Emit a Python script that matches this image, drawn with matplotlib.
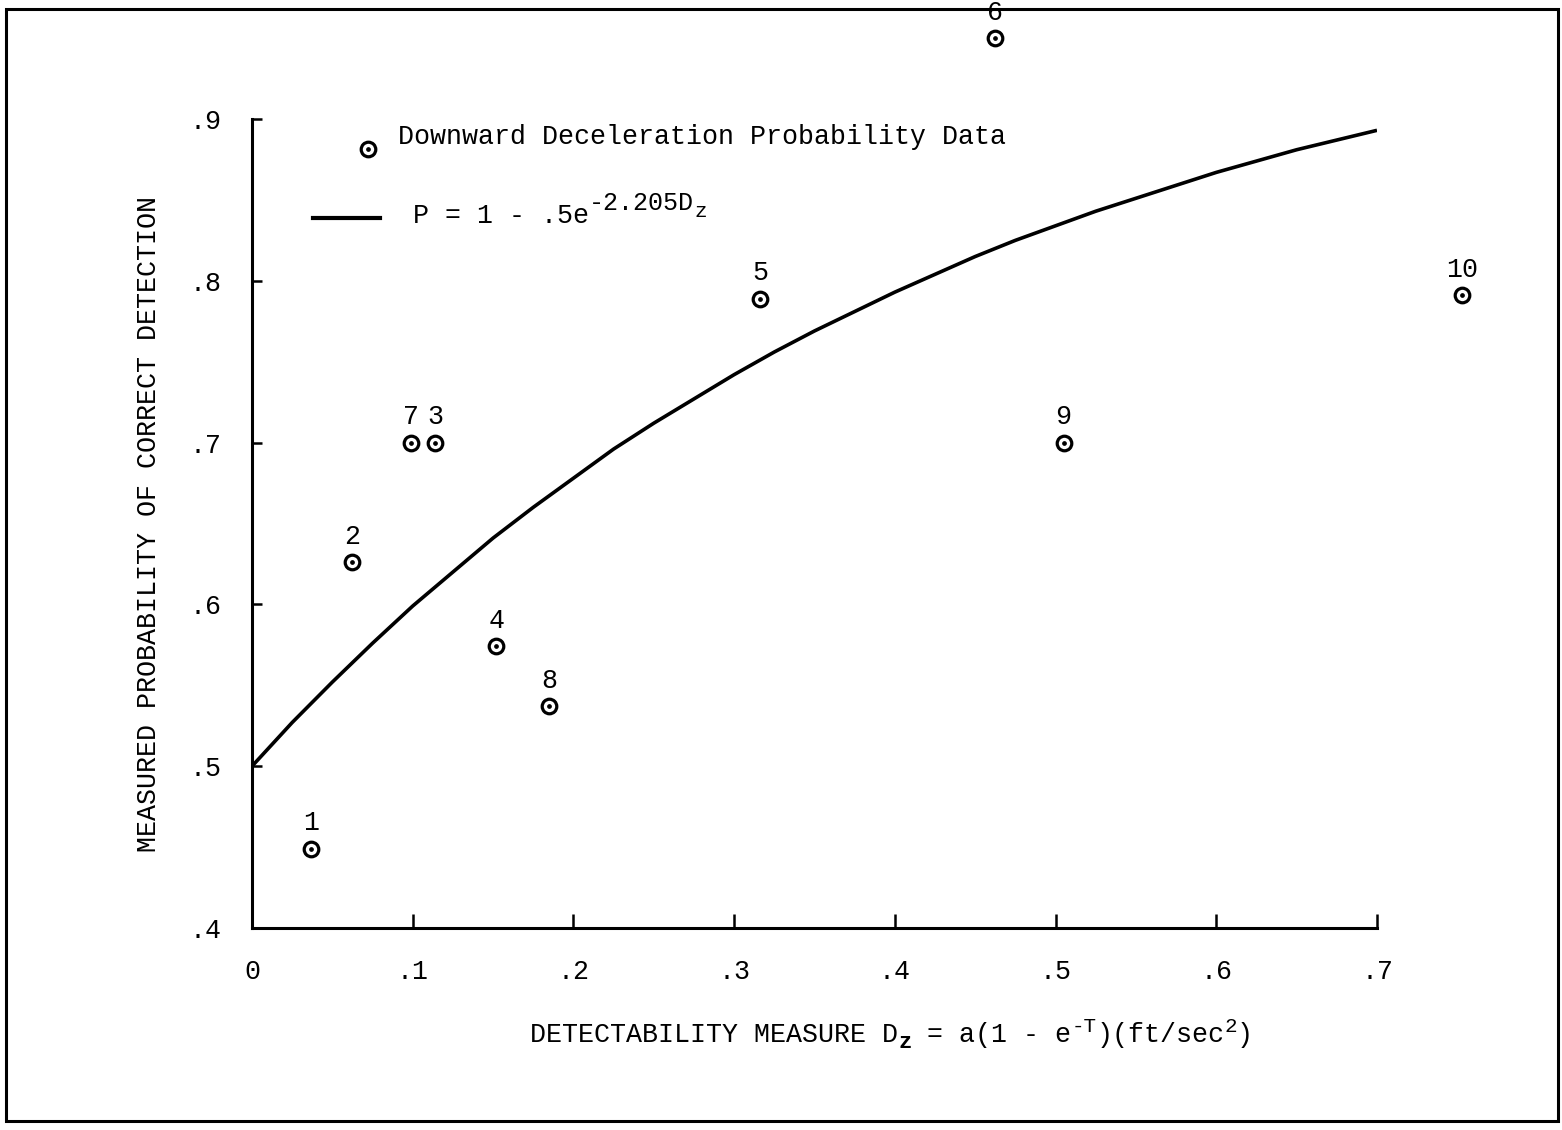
import numpy as np
import matplotlib
matplotlib.use('Agg')
import matplotlib.pyplot as plt
from matplotlib.lines import Line2D
from matplotlib.patches import Rectangle
from matplotlib.transforms import IdentityTransform

# measured points (numbered runs)
run_ids = ['1', '2', '7', '3', '4', '8', '5', '6', '9', '10']
dz = [0.037, 0.062, 0.099, 0.114, 0.152, 0.185, 0.316, 0.462, 0.505, 0.753]
p_meas = [0.449, 0.626, 0.700, 0.700, 0.574, 0.537, 0.789, 0.950, 0.700, 0.791]

# fitted curve P = 1 - .5exp(-2.205 Dz)
curve_x = [0.0, 0.025, 0.05, 0.075, 0.10, 0.125, 0.15, 0.175, 0.20, 0.225, 0.25, 0.275,
           0.30, 0.325, 0.35, 0.375, 0.40, 0.425, 0.45, 0.475, 0.50, 0.525, 0.55, 0.575,
           0.60, 0.625, 0.65, 0.675, 0.70]
curve_p = [0.500, 0.527, 0.552, 0.576, 0.599, 0.620, 0.641, 0.660, 0.678, 0.696, 0.712, 0.727,
           0.742, 0.756, 0.769, 0.781, 0.793, 0.804, 0.815, 0.825, 0.834, 0.843, 0.851, 0.859,
           0.867, 0.874, 0.881, 0.887, 0.893]

x_ticks = [0, 0.1, 0.2, 0.3, 0.4, 0.5, 0.6, 0.7]
x_labels = ['0', '.1', '.2', '.3', '.4', '.5', '.6', '.7']
y_ticks = [0.4, 0.5, 0.6, 0.7, 0.8, 0.9]
y_labels = ['.4', '.5', '.6', '.7', '.8', '.9']

plt.rcParams['font.family'] = ['Liberation Mono', 'DejaVu Sans Mono']

W, H = 1562, 1130
fig = plt.figure(figsize=(W / 100, H / 100), dpi=100)
ax = fig.add_axes([252 / W, 1 - 928 / H, 1125 / W, 809 / H])

fsz = 19.2
px = IdentityTransform()


def typed(x, y, parts):
    # lay out pieces of monospace text one after another (x, y in pixels from top-left,
    # dy > 0 raises the piece)
    for s, dy, size, weight in parts:
        fig.text(x, H - y + dy, s, fontsize=size, fontweight=weight, transform=px,
                 ha='left', va='baseline')
        x += len(s) * 0.6 * size * 100 / 72


ax.plot(curve_x, curve_p, color='black', lw=2.6, solid_capstyle='butt', zorder=3)

ax.plot(dz, p_meas, linestyle='none', marker='o', ms=10.5, mfc='white', mec='black',
        mew=2.3, clip_on=False, zorder=4)
ax.plot(dz, p_meas, linestyle='none', marker='o', ms=2.4, color='black', clip_on=False, zorder=5)

for lab, xv, yv in zip(run_ids, dz, p_meas):
    ax.annotate(lab, (xv, yv), xytext=(0, 9), textcoords='offset points',
                ha='center', va='bottom', fontsize=fsz, annotation_clip=False)

ax.set_xlim(0, 0.7)
ax.set_ylim(0.4, 0.9)
ax.spines['top'].set_visible(False)
ax.spines['right'].set_visible(False)
ax.spines['left'].set_linewidth(2.2)
ax.spines['bottom'].set_linewidth(2.2)

ax.set_xticks(x_ticks)
ax.set_xticklabels(x_labels, fontsize=fsz)
ax.set_yticks(y_ticks)
ax.set_yticklabels(y_labels, fontsize=fsz)
ax.tick_params(axis='x', direction='in', length=10, width=1.8, pad=22)
ax.tick_params(axis='y', direction='in', length=7, width=1.8, pad=22)

ax.set_ylabel('MEASURED PROBABILITY OF CORRECT DETECTION', fontsize=fsz, labelpad=20)

# x axis title with raised / lowered pieces
typed(530, 1042, [('DETECTABILITY MEASURE D', 0, fsz, 'normal'),
                  ('z', -6, 16, 'bold'),
                  (' = a(1 - e', 0, fsz, 'normal'),
                  ('-T', 10, 15, 'normal'),
                  (')(ft/sec', 0, fsz, 'normal'),
                  ('2', 10, 15, 'normal'),
                  (')', 0, fsz, 'normal')])

# hand-made legend
fig.add_artist(Line2D([368 / W], [1 - 149 / H], marker='o', ms=10.5, mfc='white',
                      mec='black', mew=2.3, transform=fig.transFigure))
fig.add_artist(Line2D([368 / W], [1 - 149 / H], marker='o', ms=2.4, color='black',
                      transform=fig.transFigure))
typed(398, 144, [('Downward Deceleration Probability Data', 0, fsz, 'normal')])
fig.add_artist(Line2D([313 / W, 380 / W], [1 - 218 / H, 1 - 218 / H],
                      color='black', lw=3, transform=fig.transFigure))
typed(413, 223, [('P = 1 - .5e', 0, fsz, 'normal'),
                 ('-2.205D', 13, 18, 'normal'),
                 ('z', 6, 15, 'normal')])

# scanned page frame
fig.add_artist(Rectangle((6 / W, 1 - 1121 / H), 1552 / W, 1112 / H,
                         fill=False, ec='black', lw=2.2, transform=fig.transFigure))

fig.savefig('out.png', dpi=100, facecolor='white')
